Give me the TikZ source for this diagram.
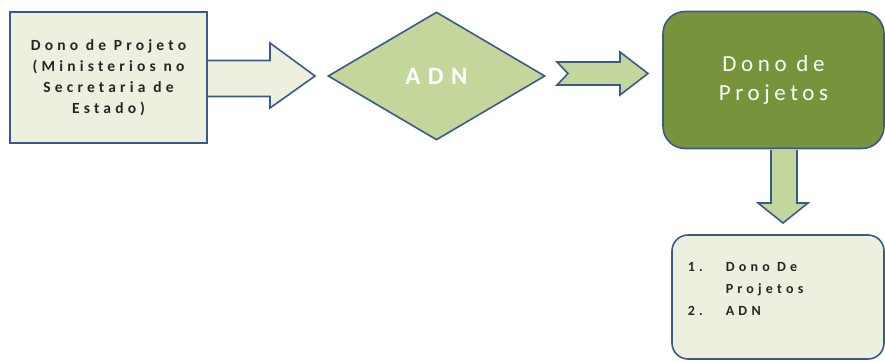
\documentclass[tikz,border=0pt]{standalone}
\usepackage{fontspec}
\setmainfont{Carlito}
\newfontfamily\wideFont[LetterSpace=27]{Carlito}
\newfontfamily\adnFont[LetterSpace=30]{Carlito}
\newfontfamily\midFont[LetterSpace=20]{Carlito}
\newfontfamily\listFont[LetterSpace=30]{Carlito}
\usetikzlibrary{shapes.geometric}

\definecolor{paleBox}{HTML}{EDF0DF}
\definecolor{lightGreen}{HTML}{C3D69B}
\definecolor{oliveGreen}{HTML}{77933C}
\definecolor{edgeBlue}{HTML}{3B5A87}

\begin{document}
\begin{tikzpicture}[x=1pt,y=-1pt,line width=1.6pt]
				\tikzstyle{every node} = [draw=edgeBlue,inner sep=0pt];
				\tikzstyle{blockarrow} = [draw=edgeBlue,line join=miter];
				\useasboundingbox (0,0) rectangle (885,361);
				% arrows first, so the shapes sit on top of their ends
				\draw[blockarrow,fill=paleBox] (205,60.5) -- (270,60.5) -- (270,43) -- (315,76) -- (270,108) -- (270,96.5) -- (205,96.5);
				\draw[blockarrow,fill=lightGreen] (557,62) -- (620,62) -- (620,52) -- (648,73.5) -- (620,95) -- (620,85) -- (557,85) -- (568,73.5) -- cycle;
				\draw[blockarrow,fill=lightGreen] (771,150) -- (771,203) -- (758,203) -- (783,223) -- (808,203) -- (797,203) -- (797,150);
				\node (owner) [rectangle,fill=paleBox,minimum width=197pt,minimum height=131pt,align=center,
					font=\wideFont\bfseries\fontsize{15.5}{21}\selectfont,text=black!85] at (108.5,77.5)
					{Dono de Projeto\\(Ministerios no\\Secretaria de\\Estado)};
				\node (adn) [diamond,fill=lightGreen,aspect=1.7,minimum width=217pt,minimum height=128pt,
					font=\adnFont\bfseries\fontsize{25}{28}\selectfont,text=white] at (436.5,76) {ADN};
				\node (owners) [rectangle,rounded corners=22pt,fill=oliveGreen,minimum width=221pt,minimum height=137pt,
					align=center,font=\midFont\fontsize{23}{29}\selectfont,text=white] at (773.5,80) {Dono de\\Projetos};
				\node (list) [rectangle,rounded corners=16pt,fill=paleBox,minimum width=212pt,minimum height=124pt] at (778,297) {};
				\node (listtext) [draw=none,anchor=north west,font=\listFont\bfseries\fontsize{14}{22}\selectfont,text=black!85]
					at (687,255) {\begin{tabular}{@{}p{38pt}@{}l@{}}1.&Dono De\\&Projetos\\2.&ADN\end{tabular}};
\end{tikzpicture}
\end{document}
